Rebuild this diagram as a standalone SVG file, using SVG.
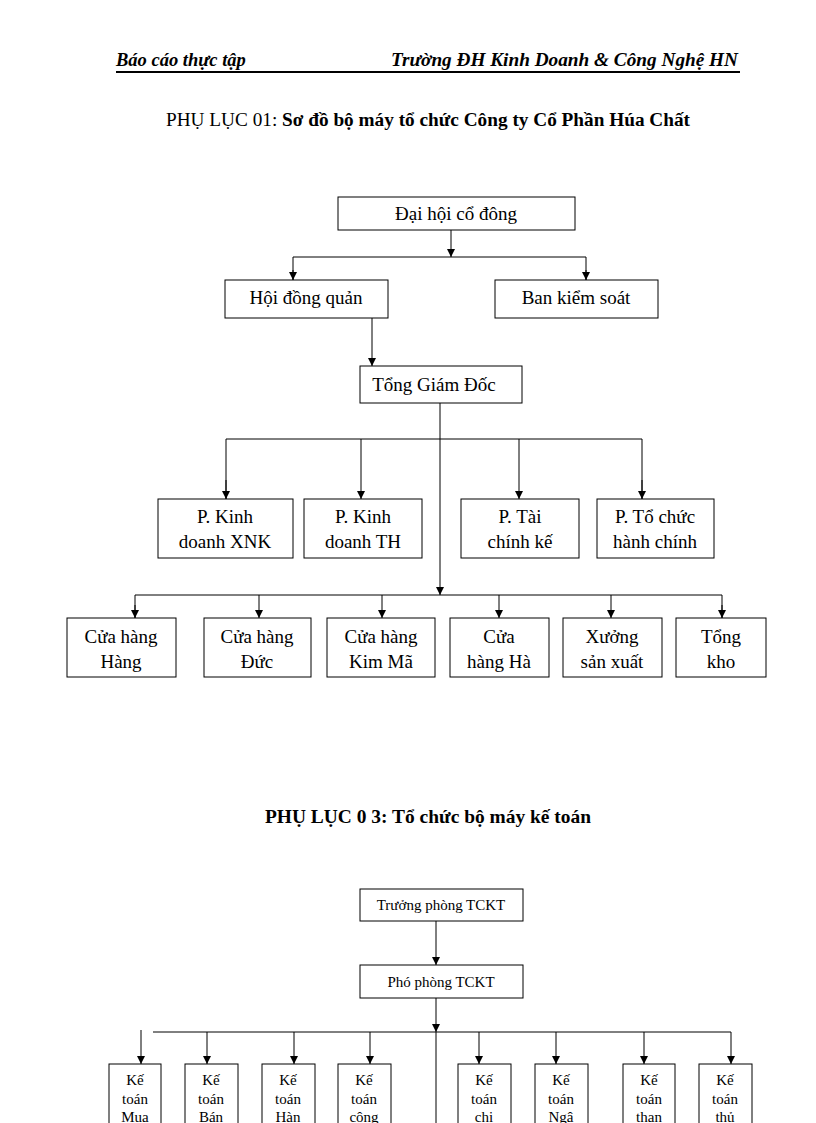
<svg xmlns="http://www.w3.org/2000/svg" width="816" height="1123" viewBox="0 0 816 1123">
<style>
text{font-family:"Liberation Serif","Times New Roman",serif;fill:#000}
.n rect{fill:#fff;stroke:#000;stroke-width:1}
.n text{font-size:19px;text-anchor:middle}
.s text{font-size:15px;text-anchor:middle}
.c line,.c path{stroke:#000;stroke-width:1;fill:none}
</style>
<defs><marker id="a" viewBox="0 0 10 10" refX="10" refY="5" markerWidth="8" markerHeight="8" markerUnits="userSpaceOnUse" orient="auto"><path d="M0,0L10,5L0,10z" fill="#000"/></marker></defs>
<rect width="816" height="1123" fill="#fff"/>
<text x="116" y="66" font-size="18.5" font-weight="bold" font-style="italic">Báo cáo thực tập</text>
<text x="738" y="66" font-size="18.5" font-weight="bold" font-style="italic" text-anchor="end" textLength="347" lengthAdjust="spacingAndGlyphs">Trường ĐH Kinh Doanh &amp; Công Nghệ HN</text>
<line x1="116" y1="72" x2="740" y2="72" stroke="#000" stroke-width="2"/>
<text x="428" y="126" font-size="18" text-anchor="middle" textLength="524" lengthAdjust="spacingAndGlyphs">PHỤ LỤC 01: <tspan font-weight="bold">Sơ đồ bộ máy tổ chức Công ty Cổ Phần Húa Chất</tspan></text>
<text x="428" y="823" font-size="18" font-weight="bold" text-anchor="middle" textLength="326" lengthAdjust="spacingAndGlyphs">PHỤ LỤC 0 3:  Tổ chức bộ máy kế toán</text>
<g class="c">
<line x1="451" y1="230" x2="451" y2="257" marker-end="url(#a)"/>
<path d="M293,280V257H586V280"/>
<line x1="293" y1="270" x2="293" y2="280" marker-end="url(#a)"/>
<line x1="586" y1="270" x2="586" y2="280" marker-end="url(#a)"/>
<line x1="372" y1="318" x2="372" y2="366" marker-end="url(#a)"/>
<line x1="440" y1="403" x2="440" y2="595" marker-end="url(#a)"/>
<path d="M226,499V439H642V499"/>
<line x1="226" y1="480" x2="226" y2="499" marker-end="url(#a)"/>
<line x1="361" y1="439" x2="361" y2="499" marker-end="url(#a)"/>
<line x1="519" y1="439" x2="519" y2="499" marker-end="url(#a)"/>
<line x1="642" y1="480" x2="642" y2="499" marker-end="url(#a)"/>
<path d="M135,618V595H722V618"/>
<line x1="135" y1="605" x2="135" y2="618" marker-end="url(#a)"/>
<line x1="259" y1="595" x2="259" y2="618" marker-end="url(#a)"/>
<line x1="382" y1="595" x2="382" y2="618" marker-end="url(#a)"/>
<line x1="499" y1="595" x2="499" y2="618" marker-end="url(#a)"/>
<line x1="611" y1="595" x2="611" y2="618" marker-end="url(#a)"/>
<line x1="722" y1="605" x2="722" y2="618" marker-end="url(#a)"/>
<line x1="436" y1="921" x2="436" y2="965" marker-end="url(#a)"/>
<line x1="436" y1="998" x2="436" y2="1032" marker-end="url(#a)"/>
<line x1="436" y1="1032" x2="436" y2="1123"/>
<line x1="153" y1="1032" x2="731" y2="1032"/>
<line x1="141" y1="1030" x2="141" y2="1064" marker-end="url(#a)"/>
<line x1="207" y1="1032" x2="207" y2="1064" marker-end="url(#a)"/>
<line x1="294" y1="1032" x2="294" y2="1064" marker-end="url(#a)"/>
<line x1="370" y1="1032" x2="370" y2="1064" marker-end="url(#a)"/>
<line x1="479" y1="1032" x2="479" y2="1064" marker-end="url(#a)"/>
<line x1="556" y1="1032" x2="556" y2="1064" marker-end="url(#a)"/>
<line x1="644" y1="1032" x2="644" y2="1064" marker-end="url(#a)"/>
<line x1="731" y1="1032" x2="731" y2="1064" marker-end="url(#a)"/>
</g>
<g id="dhcd" class="n"><rect x="338" y="197" width="237" height="33"/><text x="456" y="220">Đại hội cổ đông</text></g>
<g id="hdq" class="n"><rect x="225" y="280" width="163" height="38"/><text x="306" y="304">Hội đồng quản</text></g>
<g id="bks" class="n"><rect x="495" y="280" width="163" height="38"/><text x="576" y="304">Ban kiểm soát</text></g>
<g id="tgd" class="n"><rect x="360" y="366" width="162" height="37"/><text x="434" y="391">Tổng Giám Đốc</text></g>
<g id="p1" class="n"><rect x="158" y="499" width="135" height="59"/><text x="225" y="523">P. Kinh</text><text x="225" y="548">doanh XNK</text></g>
<g id="p2" class="n"><rect x="304" y="499" width="118" height="59"/><text x="363" y="523">P. Kinh</text><text x="363" y="548">doanh TH</text></g>
<g id="p3" class="n"><rect x="461" y="499" width="118" height="59"/><text x="520" y="523">P. Tài</text><text x="520" y="548">chính kế</text></g>
<g id="p4" class="n"><rect x="597" y="499" width="117" height="59"/><text x="655" y="523">P. Tổ chức</text><text x="655" y="548">hành chính</text></g>
<g id="c1" class="n"><rect x="67" y="618" width="109" height="59"/><text x="121" y="643">Cửa hàng</text><text x="121" y="668">Hàng</text></g>
<g id="c2" class="n"><rect x="204" y="618" width="107" height="59"/><text x="257" y="643">Cửa hàng</text><text x="257" y="668">Đức</text></g>
<g id="c3" class="n"><rect x="327" y="618" width="108" height="59"/><text x="381" y="643">Cửa hàng</text><text x="381" y="668">Kim Mã</text></g>
<g id="c4" class="n"><rect x="450" y="618" width="99" height="59"/><text x="499" y="643">Cửa</text><text x="499" y="668">hàng Hà</text></g>
<g id="c5" class="n"><rect x="563" y="618" width="99" height="59"/><text x="612" y="643">Xưởng</text><text x="612" y="668">sản xuất</text></g>
<g id="c6" class="n"><rect x="676" y="618" width="90" height="59"/><text x="721" y="643">Tổng</text><text x="721" y="668">kho</text></g>
<g id="tp" class="n s"><rect x="360" y="889" width="163" height="32"/><text x="441" y="910">Trưởng phòng TCKT</text></g>
<g id="pp" class="n s"><rect x="360" y="965" width="163" height="33"/><text x="441" y="987">Phó phòng TCKT</text></g>
<g id="k1" class="n s"><rect x="109" y="1064" width="52" height="70"/><text x="135" y="1085">Kế</text><text x="135" y="1104">toán</text><text x="135" y="1122">Mua</text></g>
<g id="k2" class="n s"><rect x="185" y="1064" width="53" height="70"/><text x="211" y="1085">Kế</text><text x="211" y="1104">toán</text><text x="211" y="1122">Bán</text></g>
<g id="k3" class="n s"><rect x="262" y="1064" width="53" height="70"/><text x="288" y="1085">Kế</text><text x="288" y="1104">toán</text><text x="288" y="1122">Hàn</text></g>
<g id="k4" class="n s"><rect x="338" y="1064" width="53" height="70"/><text x="364" y="1085">Kế</text><text x="364" y="1104">toán</text><text x="364" y="1122">công</text></g>
<g id="k5" class="n s"><rect x="458" y="1064" width="53" height="70"/><text x="484" y="1085">Kế</text><text x="484" y="1104">toán</text><text x="484" y="1122">chi</text></g>
<g id="k6" class="n s"><rect x="535" y="1064" width="53" height="70"/><text x="561" y="1085">Kế</text><text x="561" y="1104">toán</text><text x="561" y="1122">Ngâ</text></g>
<g id="k7" class="n s"><rect x="623" y="1064" width="52" height="70"/><text x="649" y="1085">Kế</text><text x="649" y="1104">toán</text><text x="649" y="1122">than</text></g>
<g id="k8" class="n s"><rect x="699" y="1064" width="53" height="70"/><text x="725" y="1085">Kế</text><text x="725" y="1104">toán</text><text x="725" y="1122">thủ</text></g>
</svg>
